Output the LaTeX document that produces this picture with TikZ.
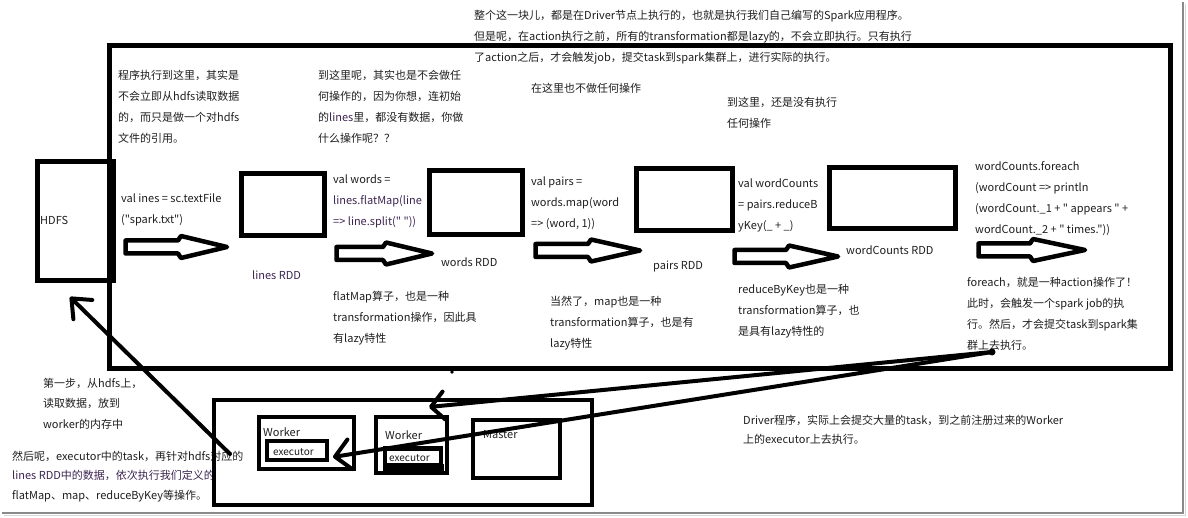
\documentclass[tikz,border=0pt]{standalone}
\usepackage{fontspec}
\setmainfont{Noto Sans CJK SC}[Ligatures=TeXOff]
\usetikzlibrary{arrows.meta}
\definecolor{txtc}{HTML}{1E1E1E}
\definecolor{txtp}{HTML}{3C2450}
\definecolor{framec}{HTML}{8A8A8A}
\newcommand\tb[1]{\begin{tabular}[t]{@{}l@{}}#1\end{tabular}}
\newcommand\blockarrowshape[4]{%
  \draw[barrow] (#1,#4-6.5) -- (#2,#4-6.5) -- (#2+3,#4-11) -- (#3,#4) -- (#2+3,#4+11) -- (#2,#4+6.5) -- (#1,#4+6.5) -- cycle;}
\begin{document}
\begin{tikzpicture}[x=1pt,y=-1pt,
  txt/.style={inner sep=0pt, anchor=base west, text=txtc, font=\fontsize{11}{20.7}\selectfont},
  txtb/.style={txt, font=\fontsize{11}{19.5}\selectfont},
  small/.style={txt, font=\fontsize{10}{12}\selectfont},
  box/.style={draw=black, line width=5pt, inner sep=0pt, fill=none},
  thinbox/.style={draw=black, line width=4pt, inner sep=0pt},
  barrow/.style={draw=black, line width=4.5pt, line join=round, fill=white},
  hand/.style={draw=black, line width=4pt, line cap=round},
  ]
\useasboundingbox (0,0) rectangle (1188,518);

% ---------- texts ----------
\node[txt, font=\fontsize{11}{21}\selectfont] (ttop) at (474,20) {\tb{整个这一块儿，都是在Driver节点上执行的，也就是执行我们自己编写的Spark应用程序。\\
但是呢，在action执行之前，所有的transformation都是lazy的，不会立即执行。只有执行\\
了action之后，才会触发job，提交task到spark集群上，进行实际的执行。}};
\node[txt] (t1) at (118,80) {\tb{程序执行到这里，其实是\\不会立即从hdfs读取数据\\的，而只是做一个对hdfs\\文件的引用。}};
\node[txt] (t2) at (318,80) {\tb{到这里呢，其实也是不会做任\\何操作的，因为你想，连初始\\的\textcolor{txtp}{lines}里，都没有数据，你做\\什么操作呢？？}};
\node[txt] (t3) at (531,93) {在这里也不做任何操作};
\node[txt] (t4) at (727,107) {\tb{到这里，还是没有执行\\任何操作}};

\node[txt] (c1) at (121,203) {\tb{val ines = sc.textFile\\("spark.txt")}};
\node[txt] (c2) at (333,184) {\tb{val words =\\\textcolor{txtp}{lines.flatMap(line}\\\textcolor{txtp}{=> line.split(" "))}}};
\node[txt] (c3) at (531,186) {\tb{val pairs =\\words.map(word\\=> (word, 1))}};
\node[txt] (c4) at (738,188) {\tb{val wordCounts\\= pairs.reduceB\\yKey(\_ + \_)}};
\node[txt] (c5) at (975,171) {\tb{wordCounts.foreach\\(wordCount => println\\(wordCount.\_1 + " appears " +\\wordCount.\_2 + " times."))}};

\node[txt, text=txtp] (l1) at (252,280) {lines RDD};
\node[txt] (l2) at (441,267) {words RDD};
\node[txt] (l3) at (653,270) {pairs RDD};
\node[txt] (l4) at (846,255) {wordCounts RDD};
\node[txt] (hdfsl) at (40,225) {HDFS};

\node[txt] (n1) at (333,301) {\tb{flatMap算子，也是一种\\transformation操作，因此具\\有lazy特性}};
\node[txt] (n2) at (550,306) {\tb{当然了，map也是一种\\transformation算子，也是有\\lazy特性}};
\node[txt] (n3) at (738,294) {\tb{reduceByKey也是一种\\transformation算子，也\\是具有lazy特性的}};
\node[txt] (n4) at (967,287) {\tb{foreach，就是一种action操作了！\\此时，会触发一个spark job的执\\行。然后，才会提交task到spark集\\群上去执行。}};

\node[txt] (b1) at (43,387) {\tb{第一步，从hdfs上，\\读取数据，放到\\worker的内存中}};
\node[txtb] (b2) at (12,460) {\tb{然后呢，executor中的task，再针对hdfs对应的\\\textcolor{txtp}{lines RDD中的数据，依次执行我们定义的}\\flatMap、map、reduceByKey等操作。}};
\node[txt, font=\fontsize{11}{19}\selectfont] (dr) at (743,424) {\tb{Driver程序，实际上会提交大量的task，到之前注册过来的Worker\\上的executor上去执行。}};

% ---------- boxes ----------
\node[box, minimum width=1061pt, minimum height=322pt] (driver) at (639.5,207) {};
\node[box, minimum width=76pt, minimum height=119pt] (hdfs) at (75,221.5) {};
\node[box, minimum width=83pt, minimum height=62.5pt] (lines) at (283,204.75) {};
\node[box, minimum width=92.5pt, minimum height=64pt] (words) at (475.75,202.5) {};
\node[box, minimum width=95.5pt, minimum height=61.5pt] (pairs) at (684.25,199.75) {};
\node[box, minimum width=126pt, minimum height=61pt] (wc) at (892.5,198.5) {};

\node[thinbox, minimum width=377.5pt, minimum height=105pt] (cluster) at (402.75,452.5) {};
\node[thinbox, minimum width=95pt, minimum height=52pt] (w1) at (306.5,443) {};
\node[thinbox, minimum width=71pt, minimum height=55.5pt] (w2) at (411,444.75) {};
\node[thinbox, minimum width=87pt, minimum height=58pt] (master) at (516,448.5) {};
\fill[black] (383,464) rectangle (444,472);
\node[thinbox, fill=white, minimum width=60pt, minimum height=18.5pt] (e1) at (297,450.25) {};
\node[thinbox, fill=white, line width=4.5pt, minimum width=56pt, minimum height=17pt] (e2) at (413,457) {};

\node[txt] (w1l) at (263,436) {Worker};
\node[txt] (w2l) at (385,439) {Worker};
\node[txt] (ml) at (483,438) {Master};
\node[small] (e1l) at (273,455) {executor};
\node[small] (e2l) at (389,461) {executor};

% ---------- block arrows ----------
\blockarrowshape{125.5}{178}{227}{247}
\blockarrowshape{336.5}{383}{432}{253.5}
\blockarrowshape{535.5}{588}{640}{250.5}
\blockarrowshape{734.5}{786}{838}{256.5}
\blockarrowshape{978.5}{1030}{1085}{250}

% ---------- hand-drawn arrows ----------
\coordinate (hs) at (230,454);
\coordinate (ht) at (70,297);
\draw[hand, -{Straight Barb[length=16pt,width=27pt,round]}] (hs) -- (ht);
\coordinate (ds) at (992,352);
\coordinate (w2t) at (429,407);
\coordinate (e1t) at (333,457);
\draw[hand, -{Straight Barb[length=13pt,width=28pt,round]}] (ds) -- (w2t);
\draw[hand, -{Straight Barb[length=15pt,width=30pt,round]}] (ds) -- (e1t);
\fill[black] (ds) circle (3.5pt);
\coordinate (dot) at (452,372);
\fill[black] (dot) circle (1.8pt);

% ---------- frame shadow ----------
\draw[framec, line width=1.5pt] (2,513) -- (1183,513) -- (1183,2);
\draw[framec!35, line width=1.2pt] (4,515.5) -- (1185.5,515.5) -- (1185.5,4);
\end{tikzpicture}
\end{document}
